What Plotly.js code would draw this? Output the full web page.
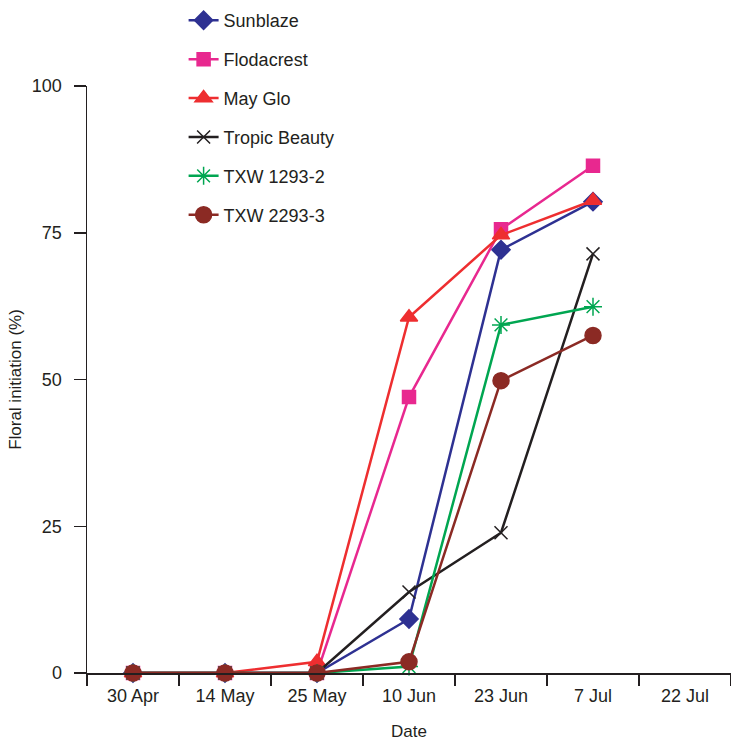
<!DOCTYPE html>
<html>
<head>
<meta charset="utf-8">
<script src="https://cdn.plot.ly/plotly-3.0.1.min.js"></script>
<style>html,body{margin:0;padding:0;background:#fff}#chart{width:731px;height:741px}</style>
</head>
<body>
<div id="chart"></div>
<script>
const categories = ["30 Apr", "14 May", "25 May", "10 Jun", "23 Jun", "7 Jul", "22 Jul"];
const dates = ["30 Apr", "14 May", "25 May", "10 Jun", "23 Jun", "7 Jul"];
const sunblaze = [0, 0, 0, 9.2, 72.1, 80.3];
const flodacrest = [0, 0, 0, 47.0, 75.6, 86.4];
const mayGlo = [0, 0, 1.9, 60.6, 74.6, 80.5];
const tropicBeauty = [0, 0, 0, 13.8, 23.9, 71.4];
const txw1293 = [0, 0, 0, 1.1, 59.3, 62.4];
const txw2293 = [0, 0, 0, 1.9, 49.8, 57.5];

const names = ["Sunblaze", "Flodacrest", "May Glo", "Tropic Beauty", "TXW 1293-2", "TXW 2293-3"];
const series = [sunblaze, flodacrest, mayGlo, tropicBeauty, txw1293, txw2293];
const colors = ["#2e3192", "#e8288f", "#ee2e30", "#231f20", "#00a651", "#8b2a24"];
const symbols = ["diamond", "square", "triangle-up", "x-thin-open", "asterisk-open", "circle"];
const sizes = [14, 13, 15, 13, 15, 16];

const traces = series.map((ys, i) => ({
  type: "scatter", mode: "lines+markers", x: dates, y: ys, name: names[i],
  legendgroup: "g" + i, cliponaxis: false,
  line: {color: colors[i], width: 2.5},
  marker: {symbol: symbols[i], size: sizes[i], color: colors[i], line: {color: colors[i], width: 1.5}}
}));

const layout = {
  width: 731, height: 741,
  margin: {l: 87, r: 0, t: 86, b: 68},
  paper_bgcolor: "#fff", plot_bgcolor: "#fff",
  font: {family: "Liberation Sans, Arial, sans-serif", size: 18, color: "#231f20"},
  showlegend: true,
  legend: {x: 0.15, y: 1.143, xanchor: "left", yanchor: "top", tracegroupgap: 12.5,
           font: {size: 18, color: "#231f20"}, bgcolor: "rgba(0,0,0,0)"},
  xaxis: {type: "category", categoryorder: "array", categoryarray: categories,
          tickvals: categories, ticktext: categories,
          range: [-0.5, 6.5], tickson: "boundaries", ticks: "outside", ticklen: 11, tickwidth: 1.5,
          tickcolor: "#231f20", showline: true, linecolor: "#231f20", linewidth: 1.5,
          showgrid: false, zeroline: false, ticklabelstandoff: 6,
          title: {text: "Date", standoff: 22, font: {size: 17}}},
  yaxis: {range: [0, 100], tickvals: [0, 25, 50, 75, 100], ticks: "outside", ticklen: 12, tickwidth: 1.5,
          tickcolor: "#231f20", showline: true, linecolor: "#231f20", linewidth: 1.5,
          showgrid: false, zeroline: false, ticklabelstandoff: 8,
          title: {text: "Floral initiation (%)", standoff: 6, font: {size: 17}}}
};

Plotly.newPlot("chart", traces, layout, {displayModeBar: false, staticPlot: true});
</script>
</body>
</html>
